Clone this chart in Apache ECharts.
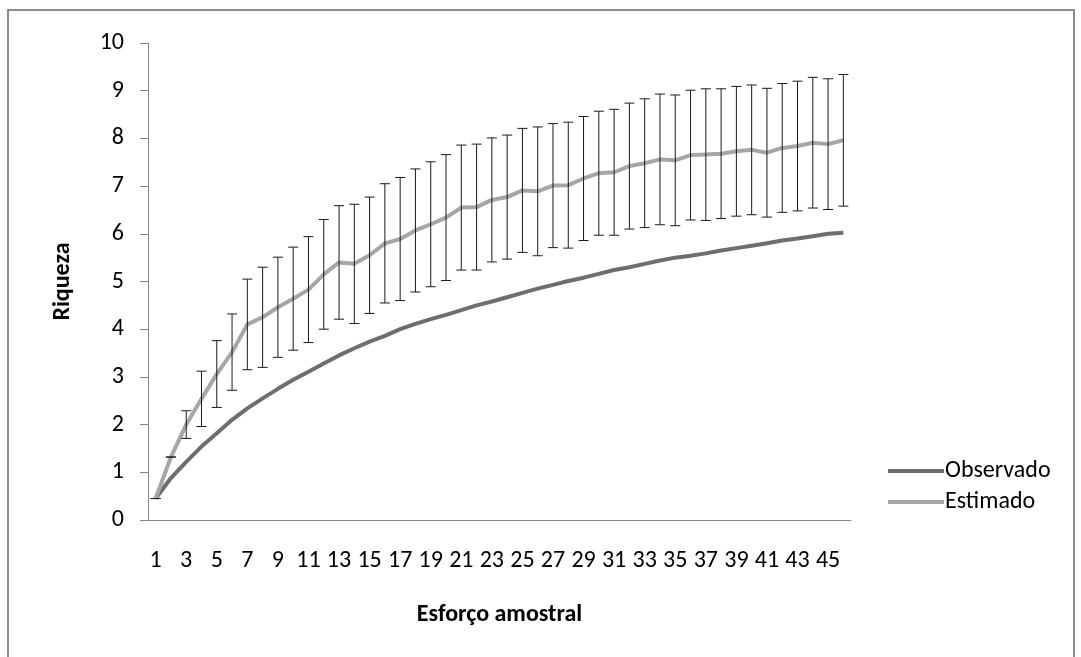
<!DOCTYPE html>
<html>
<head>
<meta charset="utf-8">
<script src="https://cdn.jsdelivr.net/npm/echarts@6/dist/echarts.min.js"></script>
<style>
html,body{margin:0;padding:0;background:#fff;}
#c{width:1081px;height:657px;}
</style>
</head>
<body>
<div id="c"></div>
<script>
const categories = [];
for (let i = 1; i <= 46; i++) categories.push(String(i));

const observado = [0.45,0.88,1.22,1.54,1.82,2.10,2.34,2.55,2.75,2.94,3.11,3.28,3.45,3.60,3.74,3.86,4.00,4.11,4.21,4.30,4.40,4.50,4.58,4.67,4.76,4.85,4.93,5.01,5.08,5.16,5.24,5.30,5.37,5.44,5.50,5.54,5.59,5.65,5.70,5.75,5.80,5.86,5.90,5.95,6.00,6.02];

const estimado = [0.45,1.32,2.00,2.54,3.06,3.52,4.10,4.25,4.46,4.64,4.83,5.15,5.40,5.37,5.55,5.80,5.89,6.07,6.20,6.34,6.55,6.56,6.71,6.77,6.91,6.89,7.01,7.02,7.16,7.27,7.29,7.42,7.48,7.56,7.54,7.65,7.66,7.68,7.73,7.76,7.70,7.80,7.84,7.91,7.88,7.96];

const erro = [0,0,0.29,0.58,0.70,0.80,0.95,1.05,1.05,1.08,1.11,1.15,1.19,1.25,1.22,1.25,1.29,1.29,1.31,1.32,1.31,1.32,1.30,1.30,1.30,1.35,1.30,1.32,1.30,1.30,1.32,1.32,1.35,1.37,1.37,1.36,1.38,1.36,1.36,1.36,1.35,1.35,1.36,1.37,1.37,1.38];

const yTicks = [0,1,2,3,4,5,6,7,8,9,10];

const errData = estimado.map((v, i) => [i, v - erro[i], v + erro[i]]);

const FONT = 'Carlito, Lato, "Open Sans", sans-serif';
const FS = 24;

const chart = echarts.init(document.getElementById('c'));
chart.setOption({
  backgroundColor: '#fff',
  animation: false,
  textStyle: { fontFamily: FONT },
  graphic: [{
    type: 'rect',
    shape: { x: 8, y: 10, width: 1066, height: 680 },
    style: { fill: 'none', stroke: '#8c8c8c', lineWidth: 2 },
    silent: true, z: -10
  }],
  grid: { left: 148, right: 230, top: 43, bottom: 137 },
  legend: {
    orient: 'vertical',
    left: 888,
    top: 459,
    itemWidth: 56,
    itemHeight: 4,
    itemGap: 7,
    padding: 0,
    icon: 'rect',
    textStyle: { fontSize: FS, color: '#000', fontFamily: FONT, lineHeight: 24, padding: [0, 0, 0, -4] },
    data: ['Observado', 'Estimado']
  },
  xAxis: {
    type: 'category',
    data: categories,
    boundaryGap: true,
    name: 'Esforço amostral',
    nameLocation: 'middle',
    nameGap: 83,
    nameTextStyle: { fontSize: FS, fontWeight: 'bold', color: '#000', fontFamily: FONT },
    axisLine: { lineStyle: { color: '#868686', width: 1 } },
    axisTick: { show: false },
    axisLabel: { interval: 1, fontSize: FS, color: '#000', margin: 29, fontFamily: FONT }
  },
  yAxis: {
    type: 'value',
    min: yTicks[0],
    max: yTicks[yTicks.length - 1],
    interval: 1,
    name: 'Riqueza',
    nameLocation: 'middle',
    nameGap: 73,
    nameTextStyle: { fontSize: FS, fontWeight: 'bold', color: '#000', fontFamily: FONT },
    axisLine: { show: true, lineStyle: { color: '#868686', width: 1 } },
    axisTick: { show: true, inside: false, length: 8, lineStyle: { color: '#868686' } },
    splitLine: { show: false },
    axisLabel: { fontSize: FS, color: '#000', margin: 24, fontFamily: FONT }
  },
  series: [
    {
      name: 'Observado',
      type: 'line',
      data: observado,
      symbol: 'none',
      lineStyle: { color: '#6e6e6e', width: 4 },
      itemStyle: { color: '#6e6e6e' },
      z: 3
    },
    {
      name: 'Estimado',
      type: 'line',
      data: estimado,
      symbol: 'none',
      lineStyle: { color: '#a6a6a6', width: 4 },
      itemStyle: { color: '#a6a6a6' },
      z: 4
    },
    {
      name: 'erro',
      type: 'custom',
      data: errData,
      z: 5,
      encode: { x: 0, y: [1, 2] },
      renderItem: function (params, api) {
        const idx = api.value(0);
        const lo = api.coord([idx, api.value(1)]);
        const hi = api.coord([idx, api.value(2)]);
        const hw = 5;
        const st = { stroke: '#1a1a1a', lineWidth: 1 };
        return {
          type: 'group',
          children: [
            { type: 'line', shape: { x1: lo[0], y1: lo[1], x2: hi[0], y2: hi[1] }, style: st },
            { type: 'line', shape: { x1: lo[0] - hw, y1: lo[1], x2: lo[0] + hw, y2: lo[1] }, style: st },
            { type: 'line', shape: { x1: hi[0] - hw, y1: hi[1], x2: hi[0] + hw, y2: hi[1] }, style: st }
          ]
        };
      }
    }
  ]
});
</script>
</body>
</html>
